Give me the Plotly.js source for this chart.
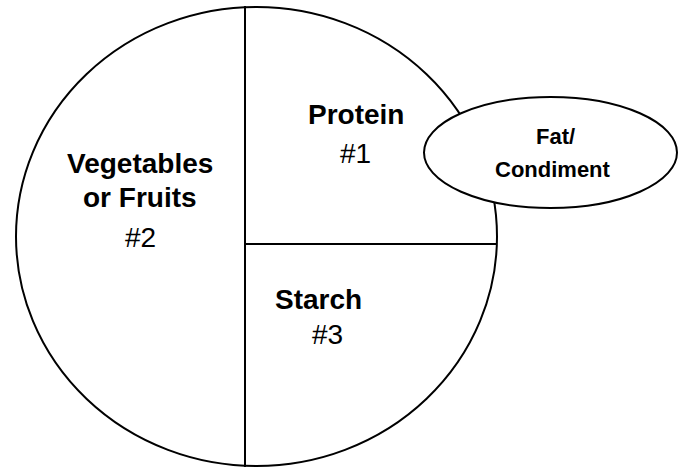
<!DOCTYPE html>
<html>
<head>
<meta charset="utf-8">
<script src="https://cdn.plot.ly/plotly-3.0.1.min.js"></script>
<style>html,body{margin:0;padding:0;background:#fff;}#chart{width:683px;height:468px;}</style>
</head>
<body>
<div id="chart"></div>
<script>
// Plate sections (labels) and their portion numbers
const sectionLines = [["Protein"], ["Vegetables", "or Fruits"], ["Starch"], ["Fat/", "Condiment"]];
const portionNumbers = ["#1", "#2", "#3"];

const font = "Liberation Sans, Arial, sans-serif";
const W = 683, H = 468;

const shapes = [
  // plate
  {type: "circle", xref: "x", yref: "y", x0: 16, x1: 497, y0: 7, y1: 466,
   line: {color: "#000", width: 2}, fillcolor: "rgba(0,0,0,0)"},
  // vertical divider
  {type: "line", xref: "x", yref: "y", x0: 245, x1: 245, y0: 6, y1: 467,
   line: {color: "#000", width: 2}},
  // horizontal divider
  {type: "line", xref: "x", yref: "y", x0: 245, x1: 497, y0: 244, y1: 244,
   line: {color: "#000", width: 2}},
  // fat / condiment dish
  {type: "circle", xref: "x", yref: "y", x0: 424, x1: 677, y0: 97, y1: 208,
   line: {color: "#000", width: 2}, fillcolor: "#fff"}
];

function ann(text, x, y, size, bold) {
  return {xref: "x", yref: "y", x: x, y: y, text: bold ? "<b>" + text + "</b>" : text,
    showarrow: false, xanchor: "center", yanchor: "middle",
    font: {family: font, size: size, color: "#000"}};
}

const annotations = [
  ann(sectionLines[0][0], 356, 114, 28, true),
  ann(portionNumbers[0], 355, 153, 28, false),
  ann(sectionLines[1][0], 140, 163, 28, true),
  ann(sectionLines[1][1], 140, 197, 28, true),
  ann(portionNumbers[1], 140, 237, 28, false),
  ann(sectionLines[2][0], 318, 299, 28, true),
  ann(portionNumbers[2], 327, 334, 28, false),
  ann(sectionLines[3][0], 555, 136, 22, true),
  ann(sectionLines[3][1], 553, 169, 22, true)
];

Plotly.newPlot("chart", [{x: [], y: [], type: "scatter", hoverinfo: "skip"}], {
  width: W, height: H,
  margin: {l: 0, r: 0, t: 0, b: 0},
  paper_bgcolor: "#fff", plot_bgcolor: "#fff",
  showlegend: false,
  xaxis: {range: [0, W], visible: false, fixedrange: true},
  yaxis: {range: [H, 0], visible: false, fixedrange: true},
  shapes: shapes,
  annotations: annotations
}, {displayModeBar: false, staticPlot: true});
</script>
</body>
</html>
